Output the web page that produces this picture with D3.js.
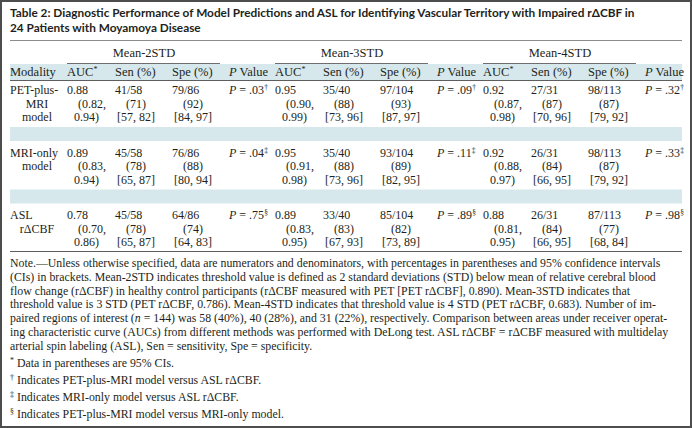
<!DOCTYPE html>
<html>
<head>
<meta charset="utf-8">
<script src="https://cdn.jsdelivr.net/npm/d3@7"></script>
<style>
html, body { margin: 0; padding: 0; background: #fff; }
svg { display: block; }
.serif { font-family: "Liberation Serif", "Times New Roman", serif; fill: #231f20; }
.title { font-family: Lato, "Noto Sans", sans-serif; font-weight: 700; fill: #231f20; }
</style>
</head>
<body>
<div id="chart"></div>
<script>

// ---- table data ----
var titleLines = [
	"Table 2: Diagnostic Performance of Model Predictions and ASL for Identifying Vascular Territory with Impaired r\u0394CBF in",
	"24 Patients with Moyamoya Disease"
];
var thresholds = ["Mean-2STD", "Mean-3STD", "Mean-4STD"];
var fields = ["AUC", "Sen", "Spe", "P"];
var modalities = [["PET-plus-", "MRI", "model"], ["MRI-only", "model"], ["ASL", "r\u0394CBF"]];

// rows = modality, cols = threshold
var aucEst  = [[0.88, 0.95, 0.92], [0.89, 0.95, 0.92], [0.78, 0.89, 0.88]];
var aucLow  = [[0.82, 0.90, 0.87], [0.83, 0.91, 0.88], [0.70, 0.83, 0.81]];
var aucHigh = [[0.94, 0.99, 0.98], [0.94, 0.98, 0.97], [0.86, 0.95, 0.95]];

var senNum = [[41, 35, 27], [45, 35, 26], [45, 33, 26]];
var senDen = [58, 40, 31];
var senPct = [[71, 88, 87], [78, 88, 84], [78, 83, 84]];
var senCI  = [[[57, 82], [73, 96], [70, 96]], [[65, 87], [73, 96], [66, 95]], [[65, 87], [67, 93], [66, 95]]];

var speNum = [[79, 97, 98], [76, 93, 98], [64, 85, 87]];
var speDen = [86, 104, 113];
var spePct = [[92, 93, 87], [88, 89, 87], [74, 82, 77]];
var speCI  = [[[84, 97], [87, 97], [79, 92]], [[80, 94], [82, 95], [79, 92]], [[64, 83], [73, 89], [68, 84]]];

var pVal  = [[".03", ".09", ".32"], [".04", ".11", ".33"], [".75", ".89", ".98"]];
var pMark = ["\u2020", "\u2021", "\u00a7"];

// _x_ marks italic text
var noteLines = [
	"Note.\u2014Unless otherwise specified, data are numerators and denominators, with percentages in parentheses and 95% confidence intervals",
	"(CIs) in brackets. Mean-2STD indicates threshold value is defined as 2 standard deviations (STD) below mean of relative cerebral blood",
	"flow change (r\u0394CBF) in healthy control participants (r\u0394CBF measured with PET [PET r\u0394CBF], 0.890). Mean-3STD indicates that",
	"threshold value is 3 STD (PET r\u0394CBF, 0.786). Mean-4STD indicates that threshold value is 4 STD (PET r\u0394CBF, 0.683). Number of im-",
	"paired regions of interest (_n_ = 144) was 58 (40%), 40 (28%), and 31 (22%), respectively. Comparison between areas under receiver operat-",
	"ing characteristic curve (AUCs) from different methods was performed with DeLong test. ASL r\u0394CBF = r\u0394CBF measured with multidelay",
	"arterial spin labeling (ASL), Sen = sensitivity, Spe = specificity."
];
var footMarks = ["*", "\u2020", "\u2021", "\u00a7"];
var footTexts = [
	"Data in parentheses are 95% CIs.",
	"Indicates PET-plus-MRI model versus ASL r\u0394CBF.",
	"Indicates MRI-only model versus ASL r\u0394CBF.",
	"Indicates PET-plus-MRI model versus MRI-only model."
];

// ---- layout ----
var W = 692, H = 428,
	left = 10, right = 682,
	lineGap = 13.5,
	shade = "#d6e8eb",
	ink = "#231f20";

var f2 = d3.format(".2f");

var svg = d3.select("#chart").append("svg")
	.attr("width", W)
	.attr("height", H);

// outer frame
svg.append("rect")
	.attr("x", 1).attr("y", 1)
	.attr("width", W - 2).attr("height", H - 2)
	.attr("fill", "#fff")
	.attr("stroke", "#4d4d4d")
	.attr("stroke-width", 2);

// scale a text element's font so that it spans the given width
var fitWidth = function(sel, target, base) {
	var w = sel.node().getComputedTextLength();
	return base * target / w;
}

// title
var title = svg.append("g");
title.selectAll("text")
	.data(titleLines)
	.enter()
	.append("text")
	.attr("class", "title")
	.attr("x", left)
	.attr("y", function(d, i) { return 17 + i * 14.5; })
	.style("font-size", "12px")
	.text(function(d) { return d; });
var tSize = fitWidth(title.select("text"), 625, 12);
title.selectAll("text").style("font-size", tSize + "px");

// scales: threshold groups and columns within a group
var groupX = d3.scaleBand()
	.domain(thresholds)
	.range([67, 67 + 3 * 208]);
var fieldX = d3.scaleOrdinal()
	.domain(fields)
	.range([0, 48, 105, 162]);
var rowY = d3.scalePoint()
	.domain(d3.range(modalities.length))
	.range([94, 219]);

// shaded header band and spacer bands
svg.append("rect")
	.attr("x", left).attr("y", 64)
	.attr("width", right - left).attr("height", 16)
	.attr("fill", shade);
svg.selectAll("rect.spacer")
	.data(d3.range(modalities.length - 1))
	.enter()
	.append("rect")
	.attr("class", "spacer")
	.attr("x", left)
	.attr("y", function(i) { return rowY(i) + 2 * lineGap + 6; })
	.attr("width", right - left)
	.attr("height", 14)
	.attr("fill", shade);

// rules
var rule = function(y, color, w) {
	svg.append("line")
		.attr("x1", left).attr("x2", right)
		.attr("y1", y).attr("y2", y)
		.attr("stroke", color)
		.attr("stroke-width", w || 1);
}
rule(40.5, "#8c8c8c");
rule(80.5, "#5e5e5e");
rule(251.5, "#5e5e5e");

// threshold group headers with underline
var grp = svg.selectAll("g.grp")
	.data(thresholds)
	.enter()
	.append("g")
	.attr("class", "grp")
	.attr("transform", function(d) { return "translate(" + groupX(d) + ",0)"; });
grp.append("text")
	.attr("class", "serif")
	.attr("x", 77)
	.attr("y", 57)
	.attr("text-anchor", "middle")
	.style("font-size", "12.5px")
	.text(function(d) { return d; });
grp.append("line")
	.attr("x1", 0).attr("x2", 153)
	.attr("y1", 63.5).attr("y2", 63.5)
	.attr("stroke", "#6e6e6e");

// column headers
var hdr = svg.append("text")
	.attr("class", "serif")
	.attr("x", left).attr("y", 76)
	.style("font-size", "12.5px")
	.text("Modality");

grp.each(function() {
	var g = d3.select(this);
	var t = g.append("text").attr("class", "serif").attr("y", 76).style("font-size", "12.5px");
	t.append("tspan").attr("x", fieldX("AUC")).text("AUC");
	t.append("tspan").attr("dy", -4).style("font-size", "8px").text("*");
	g.append("text").attr("class", "serif").attr("x", fieldX("Sen")).attr("y", 76)
		.style("font-size", "12.5px").text("Sen (%)");
	g.append("text").attr("class", "serif").attr("x", fieldX("Spe")).attr("y", 76)
		.style("font-size", "12.5px").text("Spe (%)");
	var p = g.append("text").attr("class", "serif").attr("x", fieldX("P")).attr("y", 76)
		.style("font-size", "12.5px");
	p.append("tspan").style("font-style", "italic").text("P");
	p.append("tspan").text(" Value");
});

// body rows
var cellSize = "12px";

var addLines = function(g, x, y0, lines, kind) {
	var t0 = g.append("text").attr("class", "serif")
		.attr("x", x).attr("y", y0).style("font-size", cellSize).text(lines[0]);
	var t1 = g.append("text").attr("class", "serif")
		.attr("x", x + 11).attr("y", y0 + lineGap).style("font-size", cellSize).text(lines[1]);
	var t2 = g.append("text").attr("class", "serif")
		.attr("y", y0 + 2 * lineGap).style("font-size", cellSize).text(lines[2]);
	if (kind === "AUC") {
		t2.attr("x", x + 7);
	} else {
		var w1 = t1.node().getComputedTextLength();
		t2.attr("x", x + 11 + w1 / 2).attr("text-anchor", "middle");
	}
}

modalities.forEach(function(mod, i) {
	var y0 = rowY(i);
	var row = svg.append("g").attr("class", "row");

	// modality label, continuation lines centred
	mod.forEach(function(s, k) {
		row.append("text").attr("class", "serif")
			.attr("x", k === 0 ? left : left + 27)
			.attr("text-anchor", k === 0 ? "start" : "middle")
			.attr("y", y0 + k * lineGap)
			.style("font-size", cellSize)
			.text(s);
	});

	thresholds.forEach(function(th, j) {
		var gx = groupX(th);
		addLines(row, gx + fieldX("AUC"), y0,
			[f2(aucEst[i][j]), "(" + f2(aucLow[i][j]) + ",", f2(aucHigh[i][j]) + ")"], "AUC");
		addLines(row, gx + fieldX("Sen"), y0,
			[senNum[i][j] + "/" + senDen[j], "(" + senPct[i][j] + ")", "[" + senCI[i][j][0] + ", " + senCI[i][j][1] + "]"], "Sen");
		addLines(row, gx + fieldX("Spe"), y0,
			[speNum[i][j] + "/" + speDen[j], "(" + spePct[i][j] + ")", "[" + speCI[i][j][0] + ", " + speCI[i][j][1] + "]"], "Spe");

		var p = row.append("text").attr("class", "serif")
			.attr("x", gx + fieldX("P")).attr("y", y0)
			.style("font-size", cellSize);
		p.append("tspan").style("font-style", "italic").text("P");
		p.append("tspan").text(" = " + pVal[i][j]);
		p.append("tspan").attr("dy", -4).style("font-size", "7.5px").text(pMark[i]);
	});
});

// note paragraph
var note = svg.append("g");
note.selectAll("text")
	.data(noteLines)
	.enter()
	.append("text")
	.attr("class", "serif")
	.attr("x", left)
	.attr("y", function(d, i) { return 267 + i * 13.8; })
	.style("font-size", "12px")
	.each(function(d) {
		var t = d3.select(this);
		d.split("_").forEach(function(part, k) {
			t.append("tspan")
				.style("font-style", k % 2 ? "italic" : null)
				.text(part);
		});
	});
var nSize = fitWidth(note.select("text"), 651, 12);
note.selectAll("text").style("font-size", nSize + "px");

// footnotes
var foot = svg.append("g");
foot.selectAll("text")
	.data(footTexts)
	.enter()
	.append("text")
	.attr("class", "serif")
	.attr("x", left)
	.attr("y", function(d, i) { return 367 + i * 17; })
	.style("font-size", nSize + "px")
	.each(function(d, i) {
		var t = d3.select(this);
		t.append("tspan").attr("dy", -4).style("font-size", "8px").text(footMarks[i]);
		t.append("tspan").attr("dy", 4).text(" " + d);
	});

</script>
</body>
</html>
